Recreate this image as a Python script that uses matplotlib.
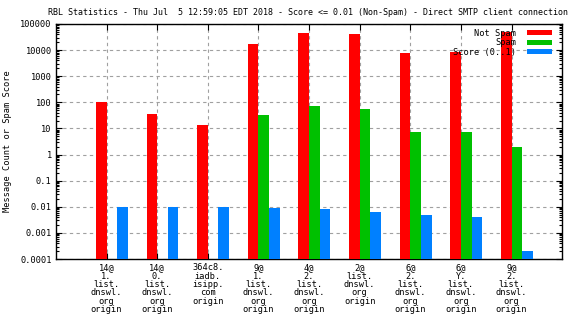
import numpy as np
import matplotlib
matplotlib.use("Agg")
import matplotlib.pyplot as plt
from matplotlib.ticker import FixedLocator, LogLocator, NullFormatter

TITLE = ("RBL Statistics - Thu Jul  5 12:59:05 EDT 2018 - Score <= 0.01 "
         "(Non-Spam) - Direct SMTP client connection")

# one entry per RBL check
categories = [
    "14@\n1.\nlist.\ndnswl.\norg\norigin",
    "14@\n0.\nlist.\ndnswl.\norg\norigin",
    "364c8.\niadb.\nisipp.\ncom\norigin",
    "9@\n1.\nlist.\ndnswl.\norg\norigin",
    "4@\n2.\nlist.\ndnswl.\norg\norigin",
    "2@\nlist.\ndnswl.\norg\norigin",
    "6@\n2.\nlist.\ndnswl.\norg\norigin",
    "6@\nY.\nlist.\ndnswl.\norg\norigin",
    "9@\n2.\nlist.\ndnswl.\norg\norigin",
]
not_spam = [100, 35, 13.5, 17000, 45000, 41000, 7700, 8500, 49000]
spam = [np.nan, np.nan, np.nan, 32, 72, 55, 7.3, 7.3, 2.0]
score = [0.01, 0.01, 0.01, 0.0089, 0.0083, 0.0064, 0.0048, 0.0040, 0.0002]

ytick_vals = [1e-4, 1e-3, 1e-2, 1e-1, 1, 10, 100, 1000, 10000, 100000]
ytick_labels = ["0.0001", "0.001", "0.01", "0.1", "1", "10", "100",
                "1000", "10000", "100000"]

MONO = "DejaVu Sans Mono"
FS = 6.2

fig = plt.figure(figsize=(5.76, 3.24), dpi=100)
ax = fig.add_axes([0.097, 0.2006, 0.879, 0.7254])

x = np.arange(len(categories))
w = 0.21
ax.bar(x - w / 2, not_spam, w, color="#ff0000", label="Not Spam", zorder=3)
ax.bar(x + w / 2, spam, w, color="#00c000", label="Spam", zorder=3)
ax.bar(x + 1.5 * w, score, w, color="#0080ff", label="Score (0..1)", zorder=3)

ax.set_yscale("log")
ax.set_ylim(1e-4, 1e5)
ax.set_xlim(-1.0, 9.0)

ax.yaxis.set_major_locator(FixedLocator(ytick_vals))
ax.set_yticklabels(ytick_labels, family=MONO, fontsize=FS)
ax.yaxis.set_minor_locator(LogLocator(base=10, subs=np.arange(2, 10), numticks=20))
ax.yaxis.set_minor_formatter(NullFormatter())

ax.set_xticks(x)
ax.set_xticklabels(categories, family=MONO, fontsize=FS, linespacing=0.92)

ax.tick_params(axis="both", which="both", direction="in", top=True, right=True,
               width=0.8, color="black")
ax.tick_params(axis="y", which="major", length=4, pad=3)
ax.tick_params(axis="y", which="minor", length=2)
ax.tick_params(axis="x", which="major", length=4, pad=3)

ax.grid(True, which="major", color="#a0a0a0", linestyle=(0, (3, 3)),
        linewidth=0.8, zorder=0)
for s in ax.spines.values():
    s.set_linewidth(1.0)

ax.set_ylabel("Message Count or Spam Score", family=MONO, fontsize=FS, labelpad=6)
fig.text(0.534, 0.962, TITLE, ha="center", va="center", family=MONO, fontsize=6.05)

leg = ax.legend(loc="upper right", frameon=False, markerfirst=False,
                prop={"family": MONO, "size": FS}, handlelength=3.0,
                handleheight=0.55, labelspacing=0.05, borderaxespad=0.15,
                handletextpad=1.2, bbox_to_anchor=(0.99, 1.0))
for t in leg.get_texts():
    t.set_ha("right")

fig.savefig("out.png", dpi=100, facecolor="white")
